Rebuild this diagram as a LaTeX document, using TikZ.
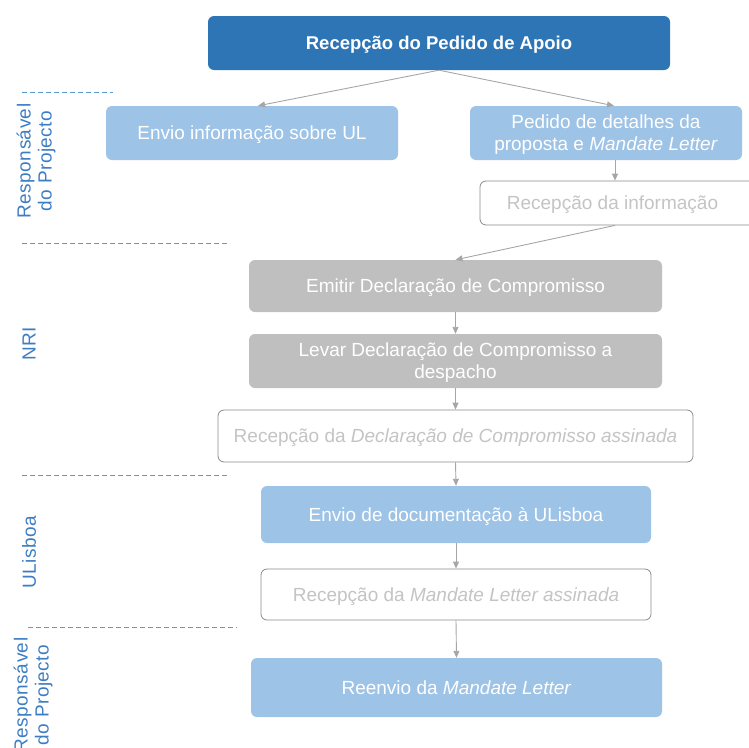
\documentclass[tikz,border=0pt]{standalone}
\usepackage{fontspec}
\setmainfont{Liberation Sans}
\newfontfamily\lanefont[LetterSpace=2.5]{Liberation Sans}
\usetikzlibrary{arrows.meta}
\definecolor{darkblue}{HTML}{2E75B6}
\definecolor{lightblue}{HTML}{9DC3E6}
\definecolor{boxgray}{HTML}{BFBFBF}
\definecolor{palegray}{HTML}{C4C4C4}
\definecolor{edgegray}{HTML}{8A8A8A}
\definecolor{arrowgray}{HTML}{A6A6A6}
\definecolor{lanetext}{HTML}{3C7DC4}
\definecolor{laneline}{HTML}{5B9BD5}
\tikzset{
  x=1pt, y=-1pt,
  stepbase/.style={rounded corners=6pt, inner sep=2pt, align=center,
    text depth=0pt, font=\fontsize{19}{22}\selectfont},
  headbox/.style={stepbase, fill=darkblue, text=white,
    font=\fontsize{18.5}{22}\selectfont\bfseries},
  bluebox/.style={stepbase, fill=lightblue, text=white},
  graybox/.style={stepbase, fill=boxgray, text=white},
  openbox/.style={stepbase, draw=edgegray, line width=0.8pt, fill=white, text=palegray},
  flow/.style={draw=arrowgray, line width=0.9pt,
    -{Triangle[length=7pt,width=6pt]}},
  lanesep/.style={draw=laneline, line width=0.9pt, dash pattern=on 5pt off 3pt},
  lanelabel/.style={text=lanetext, rotate=90, align=center,
    font=\fontsize{19}{21}\lanefont}
}
\begin{document}
\begin{tikzpicture}
\useasboundingbox (0,0) rectangle (749,747);
\clip (0,0) rectangle (749,747);

% lane separators
\draw[lanesep] (22,92) -- (113,92);
\draw[lanesep] (22,243) -- (228,243);
\draw[lanesep] (22,475) -- (228,475);
\draw[lanesep] (28,627) -- (237,627);

% lane labels
\node[lanelabel] (laneA) at (36,161) {Responsável\\do Projecto};
\node[lanelabel] (laneB) at (29,344) {NRI};
\node[lanelabel] (laneC) at (29,552) {ULisboa};
\node[lanelabel] (laneD) at (33,695) {Responsável\\do Projecto};

% process steps
\node[headbox, minimum width=462, minimum height=54] (pedidoapoio) at (439,43)
  {Recepção do Pedido de Apoio};
\node[bluebox, minimum width=292, minimum height=54] (envioul) at (252,133)
  {Envio informação sobre UL};
\node[bluebox, minimum width=272, minimum height=54] (detalhes) at (606,133)
  {Pedido de detalhes da\\proposta e \textit{Mandate Letter}};
\node[openbox, minimum width=275, minimum height=44] (recinfo) at (617.5,203)
  {\hspace*{-10pt}Recepção da informação};
\node[graybox, minimum width=413, minimum height=52] (emitir) at (455.5,286)
  {Emitir Declaração de Compromisso};
\node[graybox, minimum width=413, minimum height=54] (levar) at (455.5,361)
  {Levar Declaração de Compromisso a\\despacho};
\node[openbox, minimum width=475, minimum height=52] (recdecl) at (455.5,436)
  {Recepção da \textit{Declaração de Compromisso assinada}};
\node[bluebox, minimum width=390, minimum height=57] (enviodoc) at (456,514.5)
  {Envio de documentação à ULisboa};
\node[openbox, minimum width=390, minimum height=51] (recml) at (456,594.5)
  {Recepção da \textit{Mandate Letter assinada}};
\node[bluebox, minimum width=411, minimum height=59] (reenvio) at (456.5,687.5)
  {Reenvio da \textit{Mandate Letter}};

% connectors
\draw[flow] (pedidoapoio.south) -- ([xshift=6pt]envioul.north);
\draw[flow] (pedidoapoio.south) -- ([xshift=8pt]detalhes.north);
\draw[flow] ([xshift=9pt]detalhes.south) -- ([xshift=-2.5pt]recinfo.north);
\draw[flow] ([xshift=-2.5pt]recinfo.south) -- (emitir.north);
\draw[flow] (emitir.south) -- (levar.north);
\draw[flow] (levar.south) -- (recdecl.north);
\draw[flow] (recdecl.south) -- (enviodoc.north);
\draw[flow] (enviodoc.south) -- (recml.north);
\draw[flow] (recml.south) -- (reenvio.north);
\end{tikzpicture}
\end{document}
